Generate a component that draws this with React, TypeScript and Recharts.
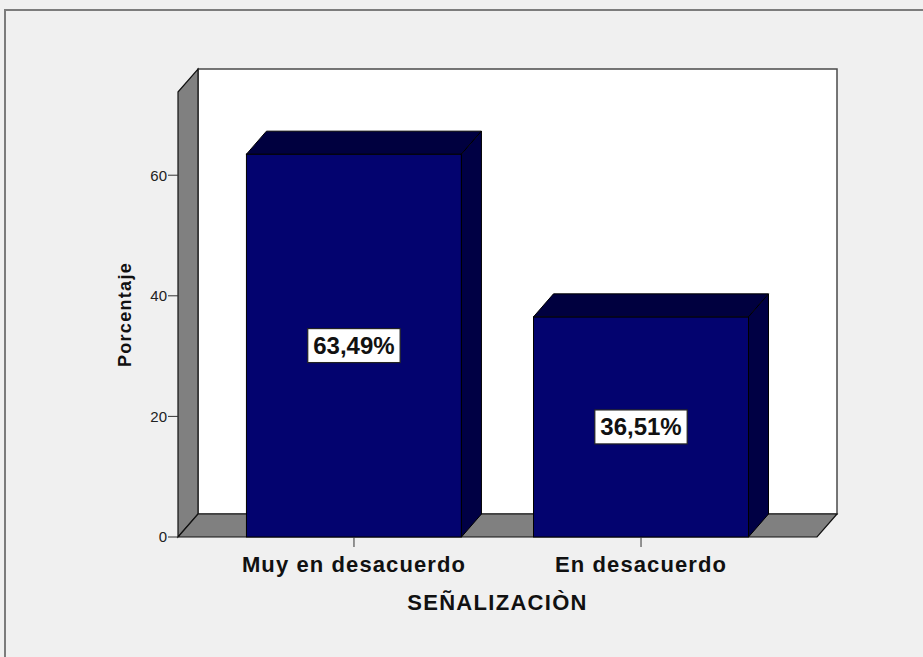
import React from "react"
import { BarChart, Bar, XAxis, YAxis, ReferenceArea, LabelList } from "recharts"

const categories = ["Muy en desacuerdo", "En desacuerdo"]
const percentages = [63.49, 36.51]
const yTicks = [0, 20, 40, 60]
const yMax = 73.8
const xDomain = [-0.613, 1.613]

const FONT = '"Liberation Sans", Arial, sans-serif'
const DX = 20
const DY = -23
const FRONT = "#03036f"
const TOP = "#00003f"
const SIDE = "#000044"

const data = categories.map((name, i) => ({ pos: i, name, value: percentages[i] }))

const fmt = (v: number) => v.toFixed(2).replace(".", ",") + "%"

let measureCtx: CanvasRenderingContext2D | null = null
function textWidth(s: string, font: string) {
  if (!measureCtx) measureCtx = document.createElement("canvas").getContext("2d")
  if (!measureCtx) return s.length * 13.5
  measureCtx.font = font
  return measureCtx.measureText(s).width
}

// back wall, left wall and floor of the 3d box
function Walls(props: any) {
  const { x, y, width, height } = props
  const b = y + height
  return (
    <g>
      <rect x={x + DX} y={y + DY} width={width} height={height} fill="#ffffff" stroke="#4a4a4a" strokeWidth={1.5} />
      <polygon
        points={`${x},${y} ${x + DX},${y + DY} ${x + DX},${b + DY} ${x},${b}`}
        fill="#808080"
        stroke="#111"
        strokeWidth={1.2}
      />
      <polygon
        points={`${x},${b} ${x + DX},${b + DY} ${x + width + DX},${b + DY} ${x + width},${b}`}
        fill="#808080"
        stroke="#111"
        strokeWidth={1.2}
      />
    </g>
  )
}

function Bar3D(props: any) {
  const { x, y, width, height } = props
  if (height <= 0) return null
  const r = x + width
  const b = y + height
  return (
    <g stroke="#000" strokeWidth={1}>
      <rect x={x} y={y} width={width} height={height} fill={FRONT} />
      <polygon points={`${x},${y} ${x + DX},${y + DY} ${r + DX},${y + DY} ${r},${y}`} fill={TOP} />
      <polygon points={`${r},${y} ${r + DX},${y + DY} ${r + DX},${b + DY} ${r},${b}`} fill={SIDE} />
    </g>
  )
}

function ValueLabel(props: any) {
  const { x, y, width, height, value } = props
  const s = fmt(value)
  const w = textWidth(s, `bold 24px ${FONT}`) + 11
  const h = 34
  const cx = x + width / 2
  const cy = y + height / 2
  return (
    <g>
      <rect x={cx - w / 2} y={cy - h / 2} width={w} height={h} fill="#fff" stroke="#222" strokeWidth={1.2} />
      <text x={cx} y={cy + 8.5} textAnchor="middle" fontSize={24} fontWeight="bold" fill="#111" fontFamily={FONT}>
        {s}
      </text>
    </g>
  )
}

export default function App() {
  return (
    <div
      style={{
        position: "absolute",
        left: 0,
        top: 0,
        width: 923,
        height: 657,
        background: "#f0f0f0",
        overflow: "hidden",
        fontFamily: FONT,
      }}
    >
      <div
        style={{
          position: "absolute",
          left: 4,
          top: 9,
          width: 940,
          height: 680,
          border: "2px solid #7c7c7c",
          boxSizing: "border-box",
        }}
      />
      <div style={{ position: "absolute", left: 0, top: 0 }}>
        <BarChart width={923} height={657} data={data} margin={{ top: 92, right: 106, bottom: 0, left: 118 }}>
          <XAxis
            dataKey="pos"
            type="number"
            domain={xDomain}
            ticks={[0, 1]}
            interval={0}
            tickFormatter={(v: number) => categories[v] ?? ""}
            height={120}
            axisLine={false}
            tickLine={{ stroke: "#333" }}
            tickSize={10}
            tickMargin={9}
            tick={{ fontSize: 22, fontWeight: "bold", fill: "#111", style: { letterSpacing: "1.1px" } }}
            label={{
              value: "SEÑALIZACIÒN",
              position: "insideTop",
              offset: 57,
              fontSize: 22,
              fontWeight: "bold",
              fill: "#111",
              style: { letterSpacing: "1.3px" },
            }}
          />
          <YAxis
            type="number"
            domain={[0, yMax]}
            ticks={yTicks}
            width={60}
            axisLine={false}
            tickLine={{ stroke: "#333" }}
            tickSize={10}
            tickMargin={1}
            tick={{ fontSize: 15, fill: "#222" }}
            label={{
              value: "Porcentaje",
              angle: -90,
              position: "insideLeft",
              offset: 6.5,
              fontSize: 18,
              fontWeight: "bold",
              fill: "#111",
              style: { textAnchor: "middle", letterSpacing: "1.3px" },
            }}
          />
          <ReferenceArea x1={xDomain[0]} x2={xDomain[1]} y1={0} y2={yMax} shape={<Walls />} />
          <Bar dataKey="value" barSize={215} shape={<Bar3D />} isAnimationActive={false}>
            <LabelList dataKey="value" content={<ValueLabel />} />
          </Bar>
        </BarChart>
      </div>
    </div>
  )
}
